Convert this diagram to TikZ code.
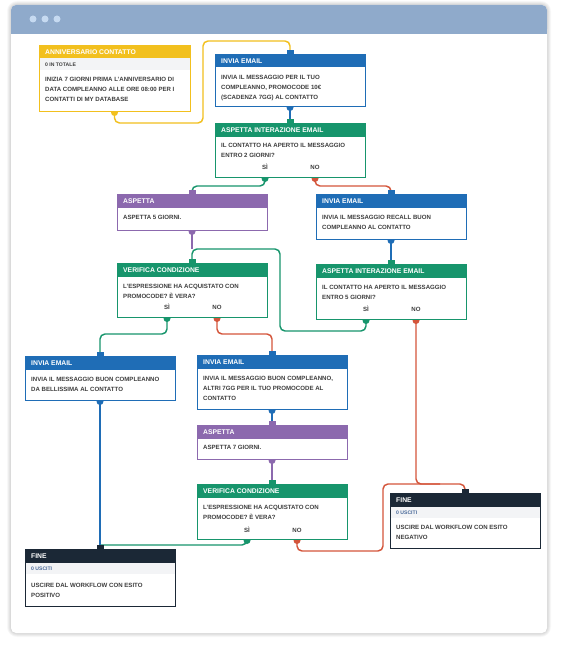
\documentclass[tikz,border=0pt]{standalone}
\usepackage{fontspec}
\setmainfont{Liberation Sans}
\definecolor{wyel}{HTML}{F2C01E}
\definecolor{wblue}{HTML}{1F6DB6}
\definecolor{wgreen}{HTML}{17956C}
\definecolor{wpurp}{HTML}{8C69AE}
\definecolor{wdark}{HTML}{1B2836}
\definecolor{wred}{HTML}{D4553B}
\definecolor{wbar}{HTML}{8FAACB}
\definecolor{wdot}{HTML}{C6DAF1}
\definecolor{wtext}{HTML}{3E3E3E}
\definecolor{wsub}{HTML}{F3F4F6}
\definecolor{wsubblue}{HTML}{4A6A9A}
\pgfdeclarelayer{frame}
\pgfdeclarelayer{lines}
\pgfsetlayers{frame,lines,main}
\tikzset{
 wbox/.style={draw=#1, line width=0.9pt, fill=white, inner sep=0pt, outer sep=0pt, anchor=north west},
 whead/.style={font=\fontsize{6.8}{8}\selectfont\bfseries, text=white, inner sep=0pt, anchor=west, text height=4.9pt, text depth=0pt},
 wbody/.style={font=\fontsize{6.1}{9.7}\selectfont\bfseries, text=wtext, inner sep=0pt, anchor=north west, align=left},
 wsubt/.style={font=\fontsize{5.1}{6}\selectfont\bfseries, inner sep=0pt, anchor=west, text height=3.7pt, text depth=0pt},
 wans/.style={font=\fontsize{6.1}{7}\selectfont\bfseries, text=wtext, inner sep=0pt, text height=4.4pt, text depth=0pt},
 conn/.style={line width=1.45pt, rounded corners=5pt},
}
% name, x, y, width, height, colour, header
\newcommand\wfbox[7]{%
 \node[wbox=#6, minimum width=#4pt, minimum height=#5pt] (#1) at (#2,#3) {};
 \fill[#6] (#1.north west) rectangle ([yshift=-13.5pt]#1.north east);
 \node[whead] (#1-h) at ([xshift=6pt,yshift=-7pt]#1.north west) {#7};
}
% name, yshift, text
\newcommand\wftext[3]{%
 \node[wbody] (#1-t) at ([xshift=6pt,yshift=-#2pt]#1.north west) {\rule{0pt}{4.6pt}#3};
}
% name, text, colour
\newcommand\wfsub[3]{%
 \fill[wsub] ([xshift=0.5pt,yshift=-13.5pt]#1.north west) rectangle ([xshift=-0.5pt,yshift=-25pt]#1.north east);
 \node[wsubt, text=#3] (#1-s) at ([xshift=6pt,yshift=-19.5pt]#1.north west) {#2};
}
% node, xshift, colour
\newcommand\wfdot[3]{\fill[#3] ([xshift=#2pt,yshift=-1.5pt]#1.south) circle (3.5pt);}
\newcommand\wftab[2]{\fill[#2] ([xshift=-3.5pt]#1.north) rectangle ([xshift=3.5pt,yshift=4pt]#1.north);}

\begin{document}
\begin{tikzpicture}[x=1pt,y=-1pt]
\useasboundingbox (0,0) rectangle (562,650);

% ---------- boxes ----------
\wfbox{a}{39}{45}{151}{66}{wyel}{ANNIVERSARIO CONTATTO}
\wfbox{b}{215}{54}{150}{52}{wblue}{INVIA EMAIL}
\wfbox{c}{215}{123}{150}{54}{wgreen}{ASPETTA INTERAZIONE EMAIL}
\wfbox{d}{117}{194}{150}{36}{wpurp}{ASPETTA}
\wfbox{e}{316}{194}{150}{45}{wblue}{INVIA EMAIL}
\wfbox{f}{117}{263}{150}{54}{wgreen}{VERIFICA CONDIZIONE}
\wfbox{g}{316}{264}{150}{55}{wgreen}{ASPETTA INTERAZIONE EMAIL}
\wfbox{h}{25}{356}{150}{44}{wblue}{INVIA EMAIL}
\wfbox{i}{197}{355}{150}{54}{wblue}{INVIA EMAIL}
\wfbox{j}{197}{425}{150}{34}{wpurp}{ASPETTA}
\wfbox{k}{197}{484}{150}{55}{wgreen}{VERIFICA CONDIZIONE}
\wfbox{l}{390}{493}{150}{55}{wdark}{FINE}
\wfbox{m}{25}{549}{150}{57}{wdark}{FINE}

\wftab{b}{wblue}\wftab{c}{wgreen}\wftab{d}{wpurp}\wftab{e}{wblue}
\wftab{f}{wgreen}\wftab{g}{wgreen}\wftab{h}{wblue}\wftab{i}{wblue}
\wftab{j}{wpurp}\wftab{k}{wgreen}\wftab{l}{wdark}\wftab{m}{wdark}

% ---------- texts ----------
\wfsub{a}{0 IN TOTALE}{wtext}
\wftext{a}{32}{INIZIA 7 GIORNI PRIMA L'ANNIVERSARIO DI\\DATA COMPLEANNO ALLE ORE 08:00 PER I\\CONTATTI DI MY DATABASE}
\wftext{b}{21}{INVIA IL MESSAGGIO PER IL TUO\\COMPLEANNO, PROMOCODE 10€\\(SCADENZA 7GG) AL CONTATTO}
\wftext{c}{20}{IL CONTATTO HA APERTO IL MESSAGGIO\\ENTRO 2 GIORNI?}
\node[wans] (c-si) at ([xshift=-25pt,yshift=-44pt]c.north) {SÌ};
\node[wans] (c-no) at ([xshift=25pt,yshift=-44pt]c.north) {NO};
\wftext{d}{21}{ASPETTA 5 GIORNI.}
\wftext{e}{21}{INVIA IL MESSAGGIO RECALL BUON\\COMPLEANNO AL CONTATTO}
\wftext{f}{21}{L'ESPRESSIONE HA ACQUISTATO CON\\PROMOCODE? È VERA?}
\node[wans] (f-si) at ([xshift=-25pt,yshift=-44pt]f.north) {SÌ};
\node[wans] (f-no) at ([xshift=25pt,yshift=-44pt]f.north) {NO};
\wftext{g}{21}{IL CONTATTO HA APERTO IL MESSAGGIO\\ENTRO 5 GIORNI?}
\node[wans] (g-si) at ([xshift=-25pt,yshift=-45pt]g.north) {SÌ};
\node[wans] (g-no) at ([xshift=25pt,yshift=-45pt]g.north) {NO};
\wftext{h}{21}{INVIA IL MESSAGGIO BUON COMPLEANNO\\DA BELLISSIMA AL CONTATTO}
\wftext{i}{21}{INVIA IL MESSAGGIO BUON COMPLEANNO,\\ALTRI 7GG PER IL TUO PROMOCODE AL\\CONTATTO}
\wftext{j}{20}{ASPETTA 7 GIORNI.}
\wftext{k}{21}{L'ESPRESSIONE HA ACQUISTATO CON\\PROMOCODE? È VERA?}
\node[wans] (k-si) at ([xshift=-25pt,yshift=-46pt]k.north) {SÌ};
\node[wans] (k-no) at ([xshift=25pt,yshift=-46pt]k.north) {NO};
\wfsub{l}{0 USCITI}{wsubblue}
\wftext{l}{32}{USCIRE DAL WORKFLOW CON ESITO\\NEGATIVO}
\wfsub{m}{0 USCITI}{wsubblue}
\wftext{m}{34}{USCIRE DAL WORKFLOW CON ESITO\\POSITIVO}

% ---------- window ----------
\begin{pgfonlayer}{frame}
\fill[white] (0,0) rectangle (562,650);
\foreach \i in {1,...,8}
  \draw[black, opacity=0.018, line width=\i pt, rounded corners=6pt] (11,5) rectangle (547,633);
\fill[white, rounded corners=5pt] (11,5) rectangle (547,633);
\fill[wbar, rounded corners=5pt] (11,5) rectangle (547,34);
\fill[wbar] (11,24) rectangle (547,34);
\fill[wdot] (33,19) circle (3.5pt);
\fill[wdot] (45,19) circle (3.5pt);
\fill[wdot] (57,19) circle (3.5pt);
\end{pgfonlayer}

% ---------- connectors and ports ----------
\begin{pgfonlayer}{lines}
\draw[conn, wyel] (a.south) |- (203,123) |- (290,41) -- (b.north);
\draw[conn, wblue] (b.south) -- (c.north);
\draw[conn, wgreen] ([xshift=-25pt]c.south) |- (192,186) -- (d.north);
\draw[conn, wred] ([xshift=25pt]c.south) |- (391,186) -- (e.north);
\draw[conn, wgreen] ([xshift=-25pt]g.south) |- (280,331) |- (192,249) -- (f.north);
\draw[conn, wpurp] (d.south) -- ([yshift=14pt]f.north);
\draw[conn, wblue] (e.south) -- (g.north);
\draw[conn, wgreen] ([xshift=-25pt]f.south) |- (100,334) -- (h.north);
\draw[conn, wred] ([xshift=25pt]f.south) |- (272,334) -- (i.north);
\draw[conn, wred] ([xshift=25pt]g.south) |- (440,484);
\draw[conn, wred] ([xshift=25pt]k.south) |- (383,551) |- (465,484) -- (l.north);
\draw[conn, wgreen] ([xshift=-25pt]k.south) |- (100,545);
\draw[conn, wblue] (h.south) -- (m.north);
\draw[conn, wblue] (i.south) -- (j.north);
\draw[conn, wpurp] (j.south) -- (k.north);

\wfdot{a}{0}{wyel}
\wfdot{b}{0}{wblue}
\wfdot{c}{-25}{wgreen}\wfdot{c}{25}{wred}
\wfdot{d}{0}{wpurp}
\wfdot{e}{0}{wblue}
\wfdot{f}{-25}{wgreen}\wfdot{f}{25}{wred}
\wfdot{g}{-25}{wgreen}\wfdot{g}{25}{wred}
\wfdot{h}{0}{wblue}
\wfdot{i}{0}{wblue}
\wfdot{j}{0}{wpurp}
\wfdot{k}{-25}{wgreen}\wfdot{k}{25}{wred}
\end{pgfonlayer}
\end{tikzpicture}
\end{document}
